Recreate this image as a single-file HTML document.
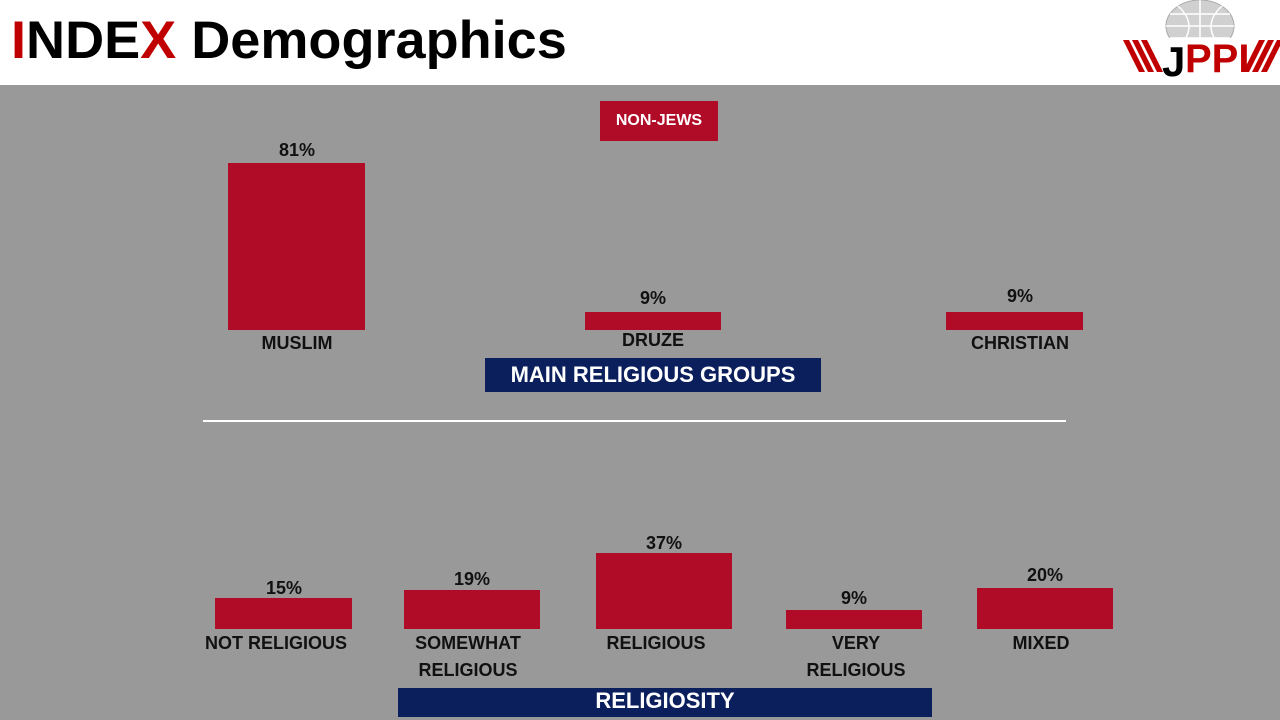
<!DOCTYPE html>
<html><head><meta charset="utf-8"><style>
body{margin:0;width:1280px;height:720px;overflow:hidden;background:#fff;font-family:"Liberation Sans",sans-serif;position:relative}
.hdr{position:absolute;left:0;top:0;width:1280px;height:85px;background:#fff}
.title{position:absolute;left:11px;top:10px;font-size:53px;font-weight:bold;color:#000;white-space:nowrap;transform-origin:left top;transform:scaleX(1.02)}
.title .r{color:#c00000}
.main{position:absolute;left:0;top:85px;width:1280px;height:635px;background:#999999}
.bar{position:absolute;background:#b00b27}
.t{position:absolute;font-weight:bold;font-size:18px;color:#111;text-align:center;white-space:nowrap;transform:translateX(-50%);line-height:27px}
.box{position:absolute;color:#fff;font-weight:bold;text-align:center}
</style></head><body>
<div class="hdr"></div>
<div class="title"><span class="r">I</span>NDE<span class="r">X</span> Demographics</div>
<svg style="position:absolute;left:1118px;top:0" width="162" height="85">
<ellipse cx="82" cy="26" rx="34" ry="26" fill="#d0d0d0" stroke="#aaa"/>
<path d="M48 26 H116 M82 0 V52 M60 6 Q82 26 60 48 M104 6 Q82 26 104 48 M52 14 H112 M52 38 H112" stroke="#fff" fill="none" stroke-width="1.5"/>
<rect x="0" y="38" width="162" height="38" fill="#fff"/>
<g fill="#c00000"><polygon points="5,40 11,40 27,72 21,72"/><polygon points="14,40 20,40 36,72 30,72"/><polygon points="23,40 29,40 45,72 39,72"/>
<polygon points="125,72 131,72 147,40 141,40"/><polygon points="134,72 140,72 156,40 150,40"/><polygon points="143,72 149,72 162,46 162,40 159,40"/></g>
<text x="44" y="76" font-family="Liberation Sans" font-weight="bold" font-size="42" fill="#000">J</text>
<text x="67" y="72" font-family="Liberation Sans" font-weight="bold" font-size="40" fill="#c00000">PPI</text>
</svg>
<div class="main"></div>
<div class="box" style="left:600px;top:101px;width:118px;height:40px;background:#b00b27;font-size:16px;line-height:40px">NON-JEWS</div>
<div class="bar" style="left:228px;top:163px;width:137px;height:167px"></div>
<div class="bar" style="left:585px;top:312px;width:136px;height:18px"></div>
<div class="bar" style="left:946px;top:312px;width:137px;height:18px"></div>
<div class="t" style="left:297px;top:137px">81%</div>
<div class="t" style="left:653px;top:285px">9%</div>
<div class="t" style="left:1020px;top:283px">9%</div>
<div class="t" style="left:297px;top:330px">MUSLIM</div>
<div class="t" style="left:653px;top:327px">DRUZE</div>
<div class="t" style="left:1020px;top:330px">CHRISTIAN</div>
<div class="box" style="left:485px;top:358px;width:336px;height:34px;background:#0b1f5c;font-size:22px;line-height:34px">MAIN RELIGIOUS GROUPS</div>
<div style="position:absolute;left:203px;top:420px;width:863px;height:2px;background:#fff"></div>
<div class="bar" style="left:215px;top:598px;width:137px;height:31px"></div>
<div class="bar" style="left:404px;top:590px;width:136px;height:39px"></div>
<div class="bar" style="left:596px;top:553px;width:136px;height:76px"></div>
<div class="bar" style="left:786px;top:610px;width:136px;height:19px"></div>
<div class="bar" style="left:977px;top:588px;width:136px;height:41px"></div>
<div class="t" style="left:284px;top:575px">15%</div>
<div class="t" style="left:472px;top:566px">19%</div>
<div class="t" style="left:664px;top:530px">37%</div>
<div class="t" style="left:854px;top:585px">9%</div>
<div class="t" style="left:1045px;top:562px">20%</div>
<div class="t" style="left:276px;top:630px">NOT RELIGIOUS</div>
<div class="t" style="left:468px;top:630px">SOMEWHAT<br>RELIGIOUS</div>
<div class="t" style="left:656px;top:630px">RELIGIOUS</div>
<div class="t" style="left:856px;top:630px">VERY<br>RELIGIOUS</div>
<div class="t" style="left:1041px;top:630px">MIXED</div>
<div class="box" style="left:398px;top:688px;width:534px;height:29px;background:#0b1f5c;font-size:22px;line-height:26px">RELIGIOSITY</div>
</body></html>
